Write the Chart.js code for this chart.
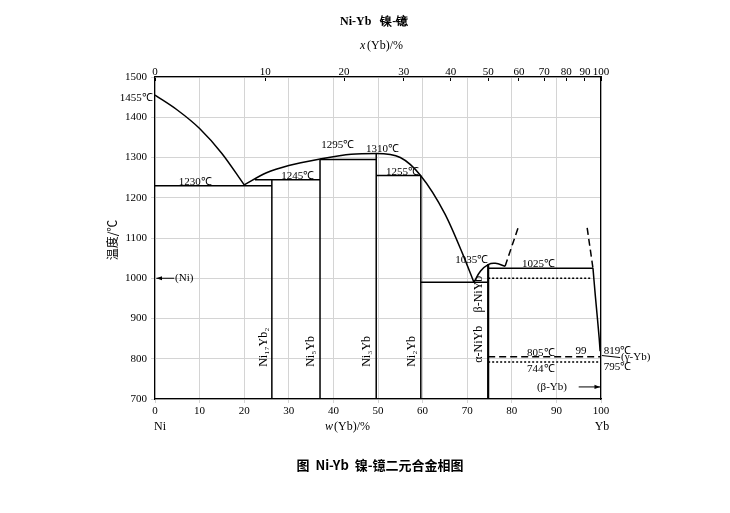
<!DOCTYPE html>
<html><head><meta charset="utf-8">
<script src="https://cdn.jsdelivr.net/npm/chart.js@4/dist/chart.umd.min.js"></script>
<style>body{margin:0;background:#fff}#w{width:730px;height:513px}</style></head>
<body><div id="w"><canvas id="c"></canvas></div>
<script>
// Data (x = w(Yb)/%, y = temperature/℃)
const liquidusNi = [[0,1455],[5,1418],[10,1372],[15,1310],[20,1232]];
const liquidusMid = [[20,1232],[25,1262],[30,1280],[37,1296],[44,1308],[49.6,1310],[55,1300],[59.5,1256],[65,1160],[69,1060],[71.5,990]];
const liquidusNiYb = [[71.5,990],[73,1018],[74.7,1034],[76.3,1037],[78.5,1030]];
const dashLeft = [[78.5,1030],[81.4,1125]];
const dashRight = [[96.9,1125],[98.2,1025]];
const ybSolidus = [[98.2,1025],[98.7,960],[99.2,900],[99.6,850],[99.8,819]];
const eut1230 = [[0,1230],[26.2,1230]];
const per1245 = [[22.4,1245],[37,1245]];
const per1295 = [[37,1295],[49.6,1295]];
const per1255 = [[49.6,1255],[59.6,1255]];
const eut990 = [[59.6,990],[74.7,990]];
const eut1025 = [[74.7,1025],[98.2,1025]];
const dotted1000 = [[74.7,1000],[98,1000]];
const dashed805 = [[74.7,805],[99.8,805]];
const dotted790 = [[74.7,792],[100,792]];
const compounds = [26.2,37,49.6,59.6,74.7];
const compoundTops = [1245,1295,1310,1255,1035];
const ybLine = [[100,700],[100,819]];
const bottomTicks = [0,10,20,30,40,50,60,70,80,90,100];
const topTickPos = [0,24.7,42.4,55.8,66.3,74.7,81.6,87.3,92.2,96.4,100];
const topTickLabels = ['0','10','20','30','40','50','60','70','80','90','100'];
const yTicks = [700,800,900,1000,1100,1200,1300,1400,1500];
const notes = [
 {t:'1455℃',x:-0.5,y:1448,a:'right'},{t:'1230℃',x:9,y:1238,a:'center'},
 {t:'1245℃',x:32,y:1253,a:'center'},{t:'1295℃',x:41,y:1332,a:'center'},
 {t:'1310℃',x:51,y:1320,a:'center'},{t:'1255℃',x:55.5,y:1263,a:'center'},
 {t:'1035℃',x:71,y:1045,a:'center'},{t:'1025℃',x:86,y:1035,a:'center'},
 {t:'805℃',x:86.5,y:813,a:'center'},{t:'744℃',x:86.5,y:775,a:'center'},
 {t:'99',x:95.5,y:818,a:'center'},{t:'819℃',x:100.6,y:820,a:'left'},
 {t:'795℃',x:100.6,y:780,a:'left'},{t:'(γ-Yb)',x:104.5,y:803,a:'left'},
 {t:'(β-Yb)',x:89,y:730,a:'center'},{t:'(Ni)',x:4.5,y:1000,a:'left'}
];
const vnotes = [
 {t:'Ni₁₇Yb₂',x:24.3,y:780},{t:'Ni₅Yb',x:35,y:780},{t:'Ni₃Yb',x:47.6,y:780},
 {t:'Ni₂Yb',x:57.6,y:780},{t:'α-NiYb',x:72.6,y:790},{t:'β-NiYb',x:72.6,y:915}
];

const pts=a=>a.map(p=>({x:p[0],y:p[1]}));
const ds=(a,o={})=>Object.assign({data:pts(a),showLine:true,pointRadius:0,borderColor:'#000',borderWidth:1.5,fill:false,xAxisID:'x',yAxisID:'y'},o);
const datasets=[
 ds(liquidusNi,{tension:0.4,cubicInterpolationMode:'monotone'}),
 ds(liquidusMid,{cubicInterpolationMode:'monotone'}),
 ds(liquidusNiYb,{tension:0.4}),
 ds(dashLeft,{borderDash:[7,4]}),ds(dashRight,{borderDash:[7,4]}),
 ds(ybSolidus,{tension:0.3}),
 ds(eut1230),ds(per1245),ds(per1295),ds(per1255),ds(eut990),ds(eut1025),
 ds(dotted1000,{borderDash:[2,2]}),ds(dashed805,{borderDash:[7,4]}),ds(dotted790,{borderDash:[2,2]}),
 ds(ybLine)
];
compounds.forEach((c,i)=>datasets.push(ds([[c,700],[c,compoundTops[i]]],{borderWidth:i==4?2.2:1.5})));

const F='"Liberation Serif",serif';
const plug={id:'ann',afterDraw(ch){
 const c=ch.ctx,x=ch.scales.x,y=ch.scales.y;
 c.save();c.fillStyle='#000';c.strokeStyle='#000';c.lineWidth=1;
 c.font='11px '+F;c.textBaseline='middle';
 notes.forEach(n=>{c.textAlign=n.a;c.fillText(n.t,x.getPixelForValue(n.x),y.getPixelForValue(n.y));});
 vnotes.forEach(n=>{c.save();c.translate(x.getPixelForValue(n.x),y.getPixelForValue(n.y));c.rotate(-Math.PI/2);c.textAlign='left';c.font='12px '+F;c.fillText(n.t,0,0);c.restore();});
 const ar=(x1,y1,x2,y2)=>{c.beginPath();c.moveTo(x1,y1);c.lineTo(x2,y2);c.stroke();const a=Math.atan2(y2-y1,x2-x1);c.beginPath();c.moveTo(x2,y2);c.lineTo(x2-6*Math.cos(a-0.35),y2-6*Math.sin(a-0.35));c.lineTo(x2-6*Math.cos(a+0.35),y2-6*Math.sin(a+0.35));c.closePath();c.fill();};
 ar(x.getPixelForValue(4.3),y.getPixelForValue(1000),x.getPixelForValue(0.3),y.getPixelForValue(1000));
 ar(x.getPixelForValue(95),y.getPixelForValue(730),x.getPixelForValue(99.8),y.getPixelForValue(730));
 c.beginPath();c.moveTo(x.getPixelForValue(100.2),y.getPixelForValue(808));c.lineTo(x.getPixelForValue(104.3),y.getPixelForValue(803));c.stroke();
 c.textAlign='left';
 c.font='bold 12px '+F;c.fillText('Ni-Yb   镍-镱',340,22);
 c.font='italic 12px '+F;c.fillText('x',360,46);c.font='12px '+F;c.fillText('(Yb)/%',367,46);
 c.font='italic 12px '+F;c.fillText('w',325,427);c.font='12px '+F;c.fillText('(Yb)/%',334,427);
 c.textAlign='center';
 c.fillText('Ni',160,427);c.fillText('Yb',602,427);
 c.font='bold 13px "Noto Sans CJK SC",'+F;c.fillText('图  Ni-Yb  镍-镱二元合金相图',380,465);
 c.save();c.translate(112,240);c.rotate(-Math.PI/2);c.font='12px "Noto Sans CJK SC",'+F;c.fillText('温度/℃',0,0);c.restore();
 c.restore();
}};
new Chart(document.getElementById('c'),{type:'scatter',data:{datasets},
 options:{responsive:true,maintainAspectRatio:false,animation:false,
  layout:{padding:{left:0,right:129,top:0,bottom:0}},
  plugins:{legend:{display:false},tooltip:{enabled:false}},
  scales:{
   x:{type:'linear',position:'bottom',min:0,max:100,
     afterFit(s){s.height=114;},
     afterBuildTicks(s){s.ticks=bottomTicks.map(v=>({value:v}));},
     ticks:{color:'#000',font:{family:F,size:11},maxRotation:0,padding:2,callback:v=>String(v)},
     grid:{color:'#d4d4d4',tickLength:4,drawTicks:true},border:{color:'#000',width:1.2}},
   x2:{type:'linear',position:'top',min:0,max:100,
     afterFit(s){s.height=77;},
     afterBuildTicks(s){s.ticks=topTickPos.map(v=>({value:v}));},
     ticks:{color:'#000',font:{family:F,size:11},maxRotation:0,padding:2,callback:(v,i)=>topTickLabels[i]},
     grid:{display:true,drawOnChartArea:false,tickLength:-4,color:'#000'},border:{color:'#000',width:1.2}},
   y:{type:'linear',min:700,max:1500,
     afterFit(s){s.width=155;},
     afterBuildTicks(s){s.ticks=yTicks.map(v=>({value:v}));},
     ticks:{color:'#000',font:{family:F,size:11},padding:4,callback:v=>String(v)},
     grid:{color:'#d4d4d4',tickLength:4},border:{color:'#000',width:1.2}},
   y2:{type:'linear',position:'right',min:700,max:1500,afterFit(s){s.width=0;},ticks:{display:false},grid:{display:false},border:{color:'#000',width:1.2}}
  }}
 ,plugins:[plug]});
</script></body></html>
